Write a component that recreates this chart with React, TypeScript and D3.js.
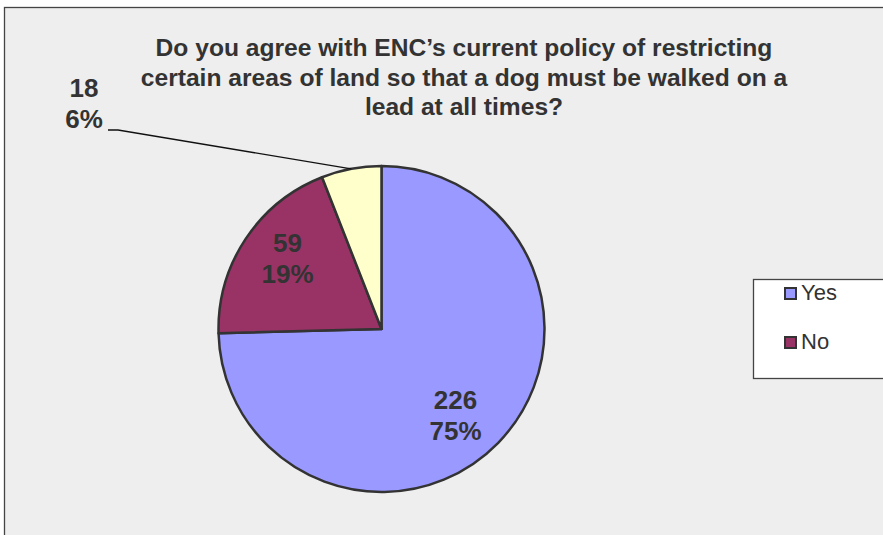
import React from "react";
import * as d3 from "d3";

const categories = ["Yes", "No", "Don't know"];
const values = [226, 59, 18];
const percents = ["75%", "19%", "6%"];
const colors = ["#9999FF", "#993366", "#FFFFCC"];
const legendItems = ["Yes", "No"];
const titleLines = [
  "Do you agree with ENC\u2019s current policy of restricting",
  "certain areas of land so that a dog must be walked on a",
  "lead at all times?",
];

const W = 883;
const H = 535;
const cx = 381.5;
const cy = 329;
const R = 163;
const FONT = "'Liberation Sans', Arial, sans-serif";

export default function App() {
  const pie = d3.pie<number>().sort(null).value((d) => d);
  const arcs = pie(values);
  const arcGen = d3.arc<d3.PieArcDatum<number>>().innerRadius(0).outerRadius(R);

  const labelPos = [
    [cx + 74, cy + 82],
    [cx - 94, cy - 75],
  ];

  const small = arcs[2];
  const midA = (small.startAngle + small.endAngle) / 2;
  const px = cx + R * Math.sin(midA);
  const py = cy - R * Math.cos(midA);

  return (
    <svg width={W} height={H} style={{ position: "absolute", left: 0, top: 0 }} fontFamily={FONT}>
      <rect x={0} y={0} width={W} height={H} fill="#ffffff" />
      <rect x={4.5} y={7.5} width={W + 10} height={H + 10} fill="#EEEEEE" stroke="#444" strokeWidth={1.3} />
      {titleLines.map((t, i) => (
        <text key={i} x={464} y={56 + i * 29.5} textAnchor="middle" fontSize={24.6} fontWeight="bold" fill="#333">
          {t}
        </text>
      ))}
      <g transform={`translate(${cx},${cy})`}>
        {arcs.map((a, i) => (
          <path key={categories[i]} d={arcGen(a) || ""} fill={colors[i]} stroke="#333" strokeWidth={2.5} strokeLinejoin="round" />
        ))}
      </g>
      {arcs.slice(0, 2).map((a, i) => {
        const [lx, ly] = labelPos[i];
        return (
          <text key={i} x={lx} y={ly} textAnchor="middle" fontSize={26} fontWeight="bold" fill="#333">
            <tspan x={lx} dy={-2}>{values[i]}</tspan>
            <tspan x={lx} dy={31}>{percents[i]}</tspan>
          </text>
        );
      })}
      <polyline points={`${px},${py} 118,130 108,130`} fill="none" stroke="#111" strokeWidth={1.3} />
      <text x={84} y={97} textAnchor="middle" fontSize={26} fontWeight="bold" fill="#333">
        <tspan x={84} dy={0}>{values[2]}</tspan>
        <tspan x={84} dy={31}>{percents[2]}</tspan>
      </text>
      <rect x={753.5} y={279.5} width={200} height={99} fill="#fff" stroke="#444" strokeWidth={1.3} />
      {legendItems.map((c, i) => (
        <g key={c} transform={`translate(785, ${288 + i * 49})`}>
          <rect x={0} y={0} width={11} height={11} fill={colors[i]} stroke="#333" strokeWidth={2} />
          <text x={16} y={12} fontSize={22} fill="#333">{c}</text>
        </g>
      ))}
    </svg>
  );
}
